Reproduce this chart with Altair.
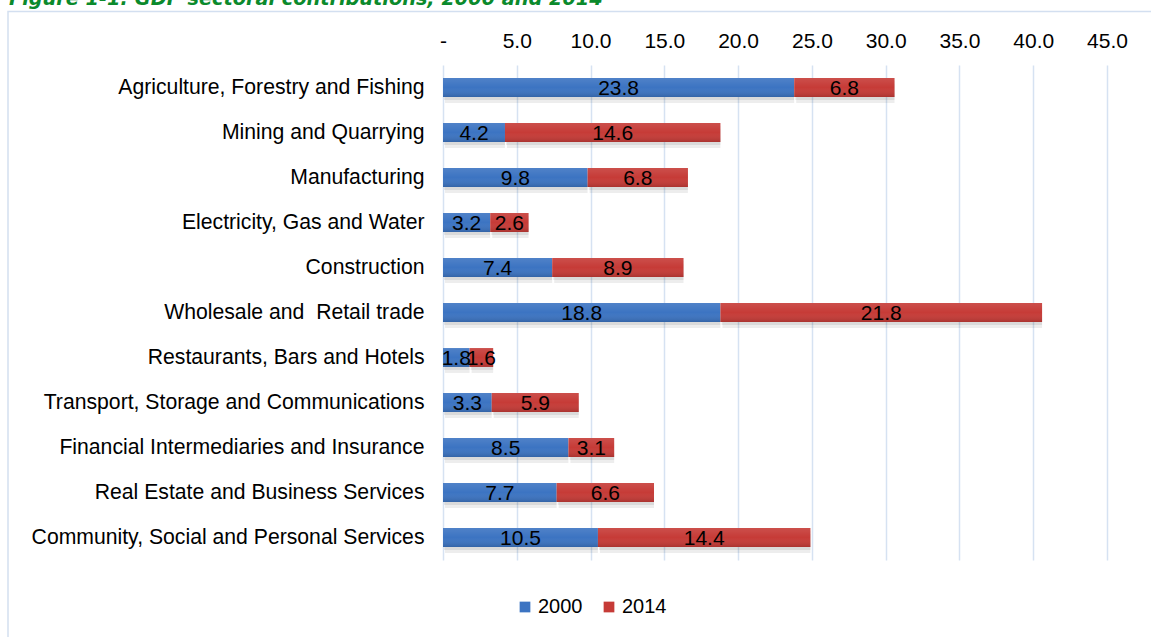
import altair as alt
import pandas as pd

sectors = [
    "Agriculture, Forestry and Fishing",
    "Mining and Quarrying",
    "Manufacturing",
    "Electricity, Gas and Water",
    "Construction",
    "Wholesale and\u00a0 Retail trade",
    "Restaurants, Bars and Hotels",
    "Transport, Storage and Communications",
    "Financial Intermediaries and Insurance",
    "Real Estate and Business Services",
    "Community, Social and Personal Services",
]
v2000 = [23.8, 4.2, 9.8, 3.2, 7.4, 18.8, 1.8, 3.3, 8.5, 7.7, 10.5]
v2014 = [6.8, 14.6, 6.8, 2.6, 8.9, 21.8, 1.6, 5.9, 3.1, 6.6, 14.4]
years = ["2000", "2014"]
colors = ["#3C74C2", "#C63B37"]
title_text = "Figure 1-1: GDP sectoral contributions, 2000 and 2014"

rows = []
for s, a, b in zip(sectors, v2000, v2014):
    rows.append({"sector": s, "year": years[0], "value": a, "ord": 0})
    rows.append({"sector": s, "year": years[1], "value": b, "ord": 1})
df = pd.DataFrame(rows)

FONT = "Liberation Sans"
PL, PT = 443, 65
W, H = 664, 495

base = alt.Chart(df).transform_stack(
    stack="value", groupby=["sector"], as_=["x0", "x1"], sort=[{"field": "ord"}]
).transform_calculate(mid="(datum.x0 + datum.x1) / 2")

yenc = alt.Y(
    "sector:N",
    sort=sectors,
    title=None,
    scale=alt.Scale(paddingInner=0.58, paddingOuter=0.29),
    axis=alt.Axis(
        labelFontSize=21.2, labelFont=FONT, labelColor="#000000", labelPadding=19,
        ticks=False, tickSize=0, domain=False, labelLimit=500, grid=False,
    ),
)
xscale = alt.Scale(domain=[0, 45], nice=False, zero=True)

xaxis = alt.Axis(
    orient="top", values=[0, 5, 10, 15, 20, 25, 30, 35, 40, 45],
    labelExpr="datum.value == 0 ? '-' : format(datum.value, '.1f')",
    labelFontSize=21, labelFont=FONT, labelColor="#000000",
    labelBaseline="alphabetic", labelPadding=18, labelFlush=False,
    labelOverlap=False, ticks=False, tickSize=0, domain=False,
    grid=True, gridColor="#D6E2F2", gridWidth=1.5, title=None,
)

shadow1 = base.mark_bar(color="#000000", opacity=0.07, yOffset=6, xOffset=2).encode(
    x=alt.X("x0:Q", scale=xscale, axis=xaxis),
    x2="x1:Q",
    y=yenc,
)
shadow2 = base.mark_bar(color="#000000", opacity=0.08, yOffset=3, xOffset=1).encode(
    x=alt.X("x0:Q", scale=xscale),
    x2="x1:Q",
    y=alt.Y("sector:N", sort=sectors),
)

bars = base.mark_bar().encode(
    x=alt.X("x0:Q", scale=xscale),
    x2="x1:Q",
    y=alt.Y("sector:N", sort=sectors),
    color=alt.Color(
        "year:N",
        scale=alt.Scale(domain=years, range=colors),
        legend=alt.Legend(
            title=None, orient="none", direction="horizontal",
            legendX=72, legendY=532, symbolType="square", symbolSize=115,
            symbolStrokeWidth=0, labelFontSize=20, labelFont=FONT,
            labelColor="#000000", columnPadding=16, labelOffset=3, padding=0,
        ),
    ),
)

shade = base.mark_bar(
    color=alt.Gradient(
        gradient="linear", x1=0, y1=0, x2=0, y2=1,
        stops=[
            alt.GradientStop(color="rgba(255,255,255,0.10)", offset=0),
            alt.GradientStop(color="rgba(255,255,255,0.0)", offset=0.5),
            alt.GradientStop(color="rgba(0,0,0,0.14)", offset=1),
        ],
    )
).encode(
    x=alt.X("x0:Q", scale=xscale),
    x2="x1:Q",
    y=alt.Y("sector:N", sort=sectors),
)

labels = base.mark_text(fontSize=21, font=FONT, color="#000000", dy=1).encode(
    x=alt.X("mid:Q", scale=xscale),
    y=alt.Y("sector:N", sort=sectors),
    text=alt.Text("value:Q", format=".1f"),
)

one = pd.DataFrame({"t": [title_text]})
frame = alt.Chart(one).mark_rect(fill=None, stroke="#D3DFF0", strokeWidth=1.5).encode(
    x=alt.value(8 - PL), x2=alt.value(1200), y=alt.value(11.5 - PT), y2=alt.value(700)
)
title = alt.Chart(one).mark_text(
    align="left", baseline="alphabetic", font="DejaVu Sans", fontSize=19.3,
    fontWeight="bold", fontStyle="italic", color="#0B8A2C",
).encode(x=alt.value(9 - PL), y=alt.value(5 - PT), text="t:N")

chart = alt.layer(frame, title, shadow1, shadow2, bars, shade, labels).properties(
    width=W, height=H,
    autosize=alt.AutoSizeParams(type="none"),
    padding={"left": PL, "top": PT, "right": 1151 - PL - W, "bottom": 637 - PT - H},
).configure(
    background="#FFFFFF",
    view=alt.ViewConfig(stroke="transparent", strokeWidth=0),
)

chart.save("out.html", embed_options={"renderer": "svg", "actions": False})
